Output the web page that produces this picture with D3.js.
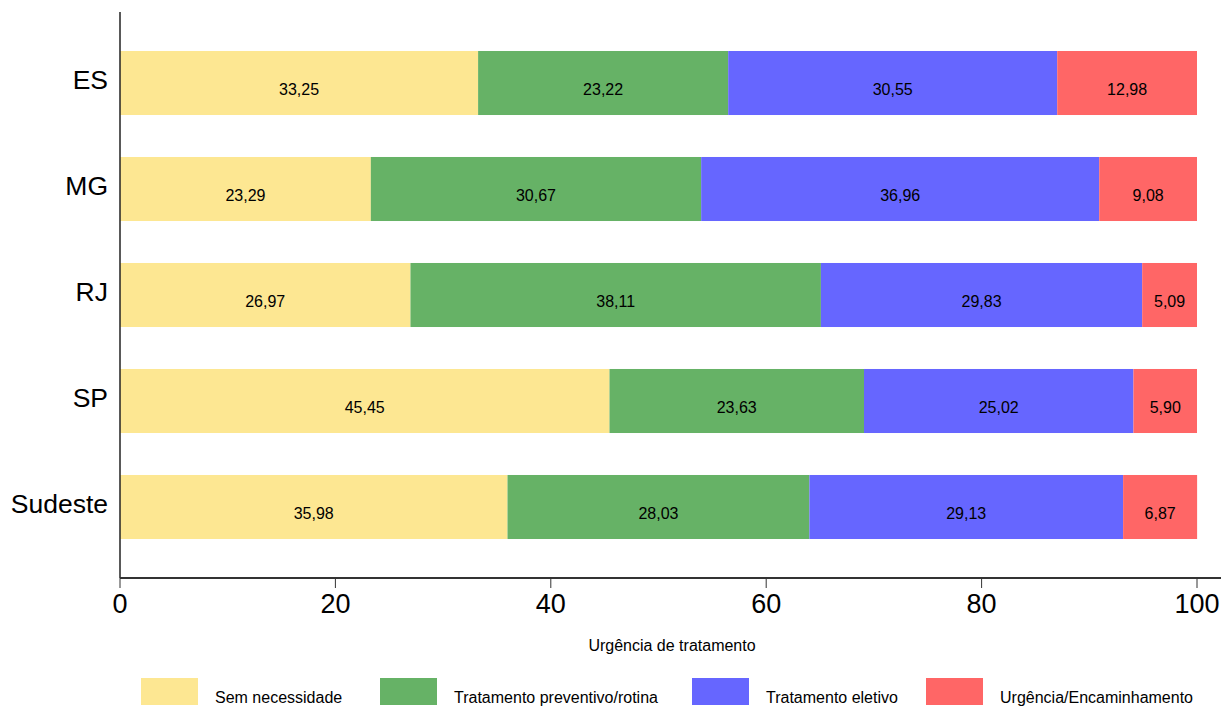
<!DOCTYPE html>
<html><head><meta charset="utf-8">
<script src="https://cdn.jsdelivr.net/npm/d3@7"></script>
<style>body{margin:0;background:#fff}svg{display:block;font-family:"Liberation Sans",Arial,sans-serif}</style>
</head><body><svg id="c" width="1221" height="707"></svg>
<script>
const categories = ["ES","MG","RJ","SP","Sudeste"];
const series = ["Sem necessidade","Tratamento preventivo/rotina","Tratamento eletivo","Urgência/Encaminhamento"];
const semNecessidade = [33.25,23.29,26.97,45.45,35.98];
const preventivo = [23.22,30.67,38.11,23.63,28.03];
const eletivo = [30.55,36.96,29.83,25.02,29.13];
const urgencia = [12.98,9.08,5.09,5.90,6.87];
const xTicks = [0,20,40,60,80,100];
const colors = ["#fde792","#66b266","#6666ff","#ff6666"];

const svg = d3.select("#c");
const x = d3.scaleLinear().domain([0,100]).range([120,1197]);
const y = d3.scaleBand().domain(categories).range([30,560]).paddingInner(0.396).paddingOuter(0.198);
const vals = [semNecessidade, preventivo, eletivo, urgencia];
const data = categories.map((c,i)=>{const o={cat:c}; series.forEach((s,j)=>o[s]=vals[j][i]); return o;});
const stacked = d3.stack().keys(series)(data);
const fmt = v => v.toFixed(2).replace(".",",");

const g = svg.append("g");
stacked.forEach((layer,j)=>{
  g.selectAll(null).data(layer).enter().append("rect")
    .attr("x",d=>x(d[0])).attr("width",d=>x(d[1])-x(d[0]))
    .attr("y",d=>y(d.data.cat)).attr("height",y.bandwidth())
    .attr("fill",colors[j]);
  g.selectAll(null).data(layer).enter().append("text")
    .attr("x",d=>(x(d[0])+x(d[1]))/2).attr("y",d=>y(d.data.cat)+y.bandwidth()/2+12)
    .attr("text-anchor","middle").attr("font-size",16).attr("fill","#000")
    .text(d=>fmt(d[1]-d[0]));
});

// y axis
svg.append("line").attr("x1",120).attr("x2",120).attr("y1",12).attr("y2",578).attr("stroke","#222").attr("stroke-width",1.5);
svg.selectAll(null).data(categories).enter().append("text")
  .attr("x",108).attr("y",d=>y(d)+y.bandwidth()/2+6).attr("text-anchor","end")
  .attr("font-size",26.5).attr("fill","#000").text(d=>d);

// x axis
svg.append("line").attr("x1",120).attr("x2",1221).attr("y1",578).attr("y2",578).attr("stroke","#333").attr("stroke-width",2);
svg.selectAll(null).data(xTicks).enter().append("line")
  .attr("x1",d=>x(d)).attr("x2",d=>x(d)).attr("y1",578).attr("y2",588).attr("stroke","#333").attr("stroke-width",1);
svg.selectAll(null).data(xTicks).enter().append("text")
  .attr("x",d=>x(d)).attr("y",613).attr("text-anchor","middle")
  .attr("font-size",27).attr("fill","#000").text(d=>d);

svg.append("text").attr("x",672).attr("y",651).attr("text-anchor","middle").attr("font-size",16).attr("fill","#000").text("Urgência de tratamento");

// legend
const legX = [141,380,692,926];
series.forEach((s,j)=>{
  svg.append("rect").attr("x",legX[j]).attr("y",678).attr("width",57).attr("height",27).attr("fill",colors[j]);
  svg.append("text").attr("x",legX[j]+74).attr("y",703).attr("font-size",16).attr("fill","#000").text(s);
});
</script></body></html>
